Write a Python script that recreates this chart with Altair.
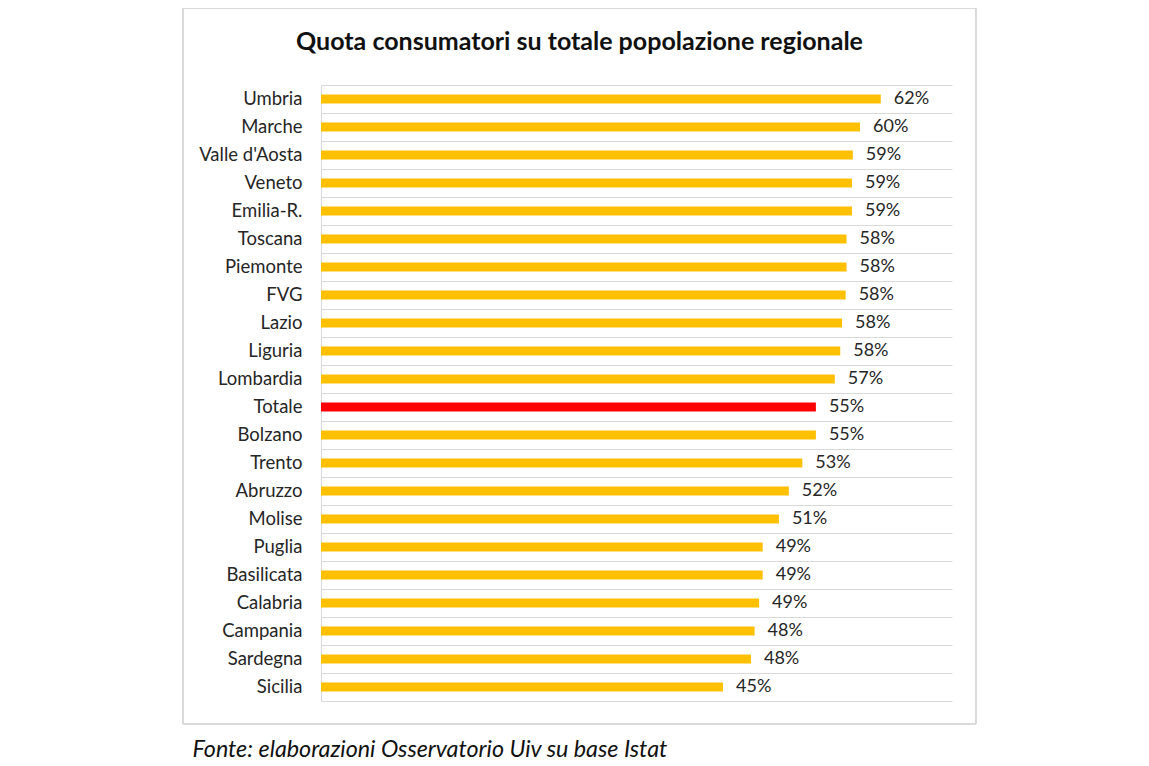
import altair as alt
import pandas as pd

regions = ["Umbria", "Marche", "Valle d'Aosta", "Veneto", "Emilia-R.", "Toscana",
           "Piemonte", "FVG", "Lazio", "Liguria", "Lombardia", "Totale", "Bolzano",
           "Trento", "Abruzzo", "Molise", "Puglia", "Basilicata", "Calabria",
           "Campania", "Sardegna", "Sicilia"]
shares = [0.621, 0.598, 0.590, 0.589, 0.589, 0.583, 0.583, 0.582, 0.578, 0.576,
          0.570, 0.549, 0.549, 0.534, 0.519, 0.508, 0.490, 0.490, 0.486, 0.481,
          0.477, 0.446]
is_total = [r == "Totale" for r in regions]

df = pd.DataFrame({"region": regions, "share": shares, "total": is_total})

FONT = "Lato"
W, H = 631, 616

y_enc = alt.Y("region:N", sort=regions,
              scale=alt.Scale(paddingInner=0, paddingOuter=0),
              axis=alt.Axis(title=None, labelFont=FONT, labelFontSize=18.5,
                            labelColor="#262626", labelPadding=19, ticks=False,
                            tickSize=0, domain=True, domainColor="#d9d9d9",
                            grid=True, gridColor="#d9d9d9", gridWidth=1,
                            bandPosition=0))
x_enc = alt.X("share:Q", scale=alt.Scale(domain=[0, 0.70], nice=False),
              axis=alt.Axis(labels=False, ticks=False, grid=False, domain=True,
                            domainColor="#d9d9d9",
                            title="Fonte: elaborazioni Osservatorio Uiv su base Istat",
                            titleFont=FONT, titleFontSize=23.3, titleFontStyle="italic",
                            titleFontWeight="normal", titleColor="#111111",
                            titleAnchor="start", titleAlign="left",
                            titleX=-129, titleY=48, titleBaseline="middle"))

bars = alt.Chart(df).mark_bar(size=9).encode(
    x=x_enc,
    y=y_enc,
    color=alt.Color("total:N", scale=alt.Scale(domain=[False, True],
                                               range=["#FFC000", "#FF0000"]),
                    legend=None),
)

labels = alt.Chart(df).mark_text(align="left", baseline="middle", dx=13,
                                 font=FONT, fontSize=18, color="#262626").encode(
    x="share:Q",
    y=alt.Y("region:N", sort=regions),
    text=alt.Text("share:Q", format=".0%"),
)

frame = alt.Chart(df).mark_rect(fill=None, stroke="#d9d9d9", strokeWidth=1).encode(
    x=alt.value(-138), x2=alt.value(655), y=alt.value(-77), y2=alt.value(639)
)

chart = alt.layer(frame, bars, labels).properties(
    width=W, height=H,
    background="white",
    title=alt.TitleParams("Quota consumatori su totale popolazione regionale",
                          font=FONT, fontSize=25, fontWeight="bold", color="#111111",
                          anchor="middle", dx=-57, offset=-47),
    padding={"left": 313, "top": 77, "right": 180, "bottom": 65},
    autosize=alt.AutoSizeParams(type="none"),
).configure_view(strokeWidth=0, stroke="transparent")

chart.save("out.html", embed_options={"renderer": "svg", "actions": False})
